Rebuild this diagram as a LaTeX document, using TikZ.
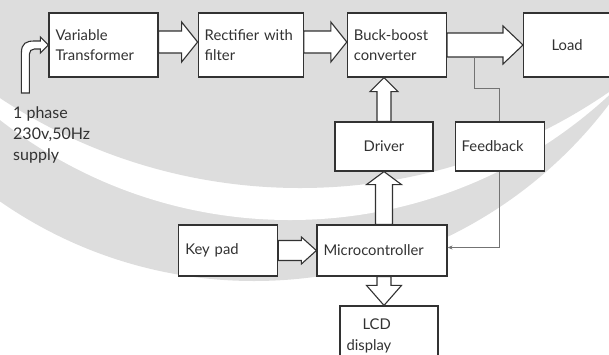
\documentclass[tikz,border=0pt]{standalone}
\usepackage{fontspec}
\setmainfont{Lato}
\usetikzlibrary{calc,positioning,arrows.meta,backgrounds}
\definecolor{inkgrey}{RGB}{50,50,50}
\definecolor{wmgrey}{RGB}{221,221,221}
\definecolor{fbgrey}{RGB}{115,115,115}

% hollow block arrow: from, to, half shaft, half head, head length
\newcommand{\fatarrow}[5]{%
  \coordinate (fa-s) at (#1);
  \coordinate (fa-t) at (#2);
  \coordinate (fa-b) at ($(fa-t)!#5!(fa-s)$);
  \draw[fat] ($(fa-s)!#3!90:(fa-t)$) -- ($(fa-b)!#3!-90:(fa-s)$)
    -- ($(fa-b)!#4!-90:(fa-s)$) -- (fa-t) -- ($(fa-b)!#4!90:(fa-s)$)
    -- ($(fa-b)!#3!90:(fa-s)$) -- ($(fa-s)!#3!-90:(fa-t)$) -- cycle;
}

\begin{document}
\begin{tikzpicture}[
  x=1pt, y=-1pt,
  font=\fontsize{14.8}{20.5}\selectfont,
  box/.style={draw=inkgrey, line width=1.2pt, fill=white, text=inkgrey,
              inner xsep=6.5pt, inner ysep=2pt, align=left, minimum height=64pt},
  fat/.style={draw=inkgrey, line width=1.1pt, fill=white, line join=miter},
  fbline/.style={draw=fbgrey, line width=0.9pt}
]
\useasboundingbox (0,0) rectangle (609,354);

% top row
\node[box, text width=96pt] (vt) at (103.5,45) {Variable\\Transformer};
\node[box, text width=92pt, right=39pt of vt] (rect) {Rectifier with\\filter};
\node[box, text width=86pt, right=43pt of rect] (buck) {Buck-boost\\converter};
\node[box, text width=74pt, align=center, right=76pt of buck] (load) {Load};

% control side
\node[box, text width=85pt, align=center, minimum height=49pt] (driver) at (384,146.5) {Driver};
\node[box, text width=76pt, minimum height=49pt, right=21pt of driver] (fb) {Feedback};
\node[box, text width=117pt, minimum height=51pt] (micro) at (382,250.5) {Microcontroller};
\node[box, text width=86pt, minimum height=51pt, left=38pt of micro] (keypad) {Key pad};
\node[box, text width=85pt, minimum height=60pt] (lcd) at (389,336) {\hspace*{16pt}LCD\\display};

\node[anchor=north west, align=left, text=inkgrey, inner sep=2pt,
      font=\fontsize{16}{21}\selectfont] (supply) at (11,105)
      {1 phase\\230v,50Hz\\supply};

% power path
\fatarrow{[yshift=3pt]vt.east}{[yshift=3pt]rect.west}{11pt}{20pt}{16pt}
\fatarrow{[yshift=3pt]rect.east}{[yshift=3pt]buck.west}{11pt}{20pt}{16pt}
\fatarrow{buck.east}{load.west}{12pt}{19pt}{20pt}

% supply feed bent into the transformer
\begin{scope}[shift={(vt.west)}]
  \draw[fat] (-27,48) -- (-27,8) .. controls (-27,-2) and (-22,-4) .. (-14,-4)
    -- (-8,-4) -- (-8,-8) -- (0,0) -- (-8,8) -- (-8,4) -- (-14,4)
    .. controls (-17,4) and (-19,6) .. (-19,9) -- (-19,48) -- cycle;
\end{scope}

% control path
\fatarrow{driver.north}{driver.north |- buck.south}{7pt}{14pt}{14pt}
\fatarrow{driver.south |- micro.north}{driver.south}{8.5pt}{17.5pt}{13pt}
\fatarrow{keypad.east}{micro.west}{10pt}{13.5pt}{15pt}
\fatarrow{driver.south |- micro.south}{driver.south |- lcd.north}{7pt}{17.5pt}{20pt}

% feedback loop
\coordinate (tap) at ([xshift=27pt,yshift=-12pt]buck.east);
\draw[fbline] (tap) -- ++(0,31) -| (fb.north);
\draw[fbline, -{Stealth[length=5pt,width=4pt]}] (fb.south) |- ([yshift=3pt]micro.east);

% faint swoosh behind everything
\begin{scope}[on background layer]
  \clip (0,0) rectangle (609,354);
  \fill[wmgrey] (254,-164) circle[radius=445pt];
  \fill[white] (290,-250) circle[radius=470pt];
  \fill[wmgrey] (300,-357) circle[radius=545pt];
\end{scope}
\end{tikzpicture}
\end{document}
